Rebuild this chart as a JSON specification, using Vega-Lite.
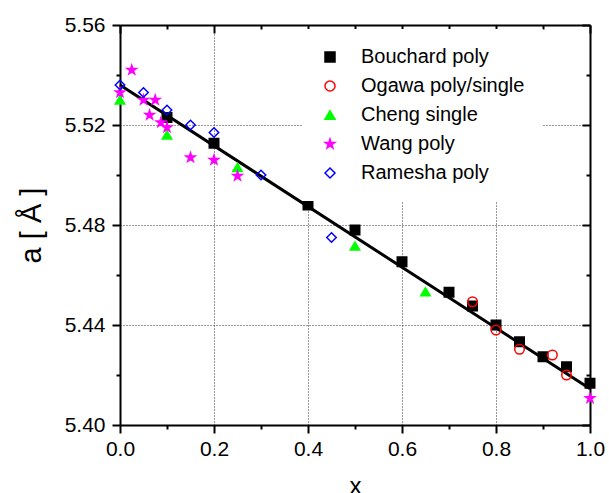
{
  "$schema": "https://vega.github.io/schema/vega-lite/v6.json",
  "width": 470,
  "height": 400,
  "autosize": {"type": "none"},
  "padding": {"left": 120, "top": 25, "right": 19, "bottom": 68},
  "background": "white",
  "config": {
    "font": "Liberation Sans",
    "view": {"stroke": null},
    "axis": {
      "domainColor": "black",
      "domainWidth": 2,
      "tickColor": "black",
      "tickWidth": 2,
      "labelColor": "black",
      "labelFontSize": 21,
      "labelFont": "Liberation Sans",
      "titleColor": "black",
      "titleFont": "Liberation Sans",
      "titleFontWeight": "normal",
      "gridColor": "#333333",
      "gridDash": [1, 2],
      "gridWidth": 1
    }
  },
  "datasets": {
    "fit": [
      {"x": 0, "a": 5.536},
      {"x": 1, "a": 5.4145}
    ],
    "pts": [
      {"series": "Bouchard poly", "x": 0.1, "a": 5.523},
      {"series": "Bouchard poly", "x": 0.2, "a": 5.5127},
      {"series": "Bouchard poly", "x": 0.4, "a": 5.488},
      {"series": "Bouchard poly", "x": 0.5, "a": 5.478},
      {"series": "Bouchard poly", "x": 0.6, "a": 5.4653},
      {"series": "Bouchard poly", "x": 0.7, "a": 5.4531},
      {"series": "Bouchard poly", "x": 0.75, "a": 5.4476},
      {"series": "Bouchard poly", "x": 0.8, "a": 5.44},
      {"series": "Bouchard poly", "x": 0.85, "a": 5.4333},
      {"series": "Bouchard poly", "x": 0.9, "a": 5.4273},
      {"series": "Bouchard poly", "x": 0.95, "a": 5.4233},
      {"series": "Bouchard poly", "x": 1.0, "a": 5.4167},
      {"series": "Ogawa poly/single", "x": 0.75, "a": 5.4493},
      {"series": "Ogawa poly/single", "x": 0.8, "a": 5.438},
      {"series": "Ogawa poly/single", "x": 0.85, "a": 5.4303},
      {"series": "Ogawa poly/single", "x": 0.92, "a": 5.428},
      {"series": "Ogawa poly/single", "x": 0.95, "a": 5.42},
      {"series": "Cheng single", "x": 0.0, "a": 5.53},
      {"series": "Cheng single", "x": 0.1, "a": 5.516},
      {"series": "Cheng single", "x": 0.25, "a": 5.503},
      {"series": "Cheng single", "x": 0.5, "a": 5.4716},
      {"series": "Cheng single", "x": 0.65, "a": 5.4533},
      {"series": "Wang poly", "x": 0.0, "a": 5.533},
      {"series": "Wang poly", "x": 0.025, "a": 5.542},
      {"series": "Wang poly", "x": 0.05, "a": 5.53},
      {"series": "Wang poly", "x": 0.063, "a": 5.524},
      {"series": "Wang poly", "x": 0.075, "a": 5.53},
      {"series": "Wang poly", "x": 0.087, "a": 5.521},
      {"series": "Wang poly", "x": 0.1, "a": 5.519},
      {"series": "Wang poly", "x": 0.15, "a": 5.507},
      {"series": "Wang poly", "x": 0.2, "a": 5.506},
      {"series": "Wang poly", "x": 0.25, "a": 5.4996},
      {"series": "Wang poly", "x": 1.0, "a": 5.4107},
      {"series": "Ramesha poly", "x": 0.0, "a": 5.536},
      {"series": "Ramesha poly", "x": 0.05, "a": 5.533},
      {"series": "Ramesha poly", "x": 0.1, "a": 5.526},
      {"series": "Ramesha poly", "x": 0.15, "a": 5.52},
      {"series": "Ramesha poly", "x": 0.2, "a": 5.517},
      {"series": "Ramesha poly", "x": 0.3, "a": 5.5},
      {"series": "Ramesha poly", "x": 0.45, "a": 5.475}
    ]
  },
  "layer": [
    {
      "data": {"name": "fit"},
      "mark": {"type": "line", "color": "black", "strokeWidth": 3},
      "encoding": {
        "x": {
          "field": "x", "type": "quantitative",
          "scale": {"domain": [0, 1], "nice": false, "zero": false},
          "axis": {
            "orient": "bottom",
            "values": [0, 0.1, 0.2, 0.3, 0.4, 0.5, 0.6, 0.7, 0.8, 0.9, 1.0],
            "labelExpr": "round(datum.value*10)%2==0 ? format(datum.value,'.1f') : ''",
            "tickSize": {"condition": {"test": "round(datum.value*10)%2==0", "value": 8}, "value": 4},
            "labelPadding": 5,
            "labelFlush": false,
            "labelOverlap": false,
            "grid": true,
            "gridOpacity": {"condition": {"test": "round(datum.value*10)%2==0 && datum.value>0.05 && datum.value<0.95", "value": 1}, "value": 0},
            "title": "x",
            "titleFontSize": 24,
            "titlePadding": 15
          }
        },
        "y": {
          "field": "a", "type": "quantitative",
          "scale": {"domain": [5.40, 5.56], "nice": false, "zero": false},
          "axis": {
            "orient": "left",
            "values": [5.40, 5.42, 5.44, 5.46, 5.48, 5.50, 5.52, 5.54, 5.56],
            "labelExpr": "round(datum.value*100)%4==0 ? format(datum.value,'.2f') : ''",
            "tickSize": {"condition": {"test": "round(datum.value*100)%4==0", "value": 8}, "value": 4},
            "labelPadding": 7,
            "labelFlush": false,
            "labelOverlap": false,
            "grid": true,
            "gridOpacity": {"condition": {"test": "round(datum.value*100)%4==0 && datum.value>5.41 && datum.value<5.55", "value": 1}, "value": 0},
            "title": "a [ Å ]",
            "titleFontSize": 29,
            "titlePadding": 18
          }
        }
      }
    },
    {
      "data": {"name": "pts"},
      "mark": {"type": "point", "size": 90, "strokeWidth": 1.5, "opacity": 1},
      "encoding": {
        "x": {
          "field": "x", "type": "quantitative",
          "scale": {"domain": [0, 1], "nice": false, "zero": false},
          "axis": {
            "orient": "top",
            "values": [0, 0.1, 0.2, 0.3, 0.4, 0.5, 0.6, 0.7, 0.8, 0.9, 1.0],
            "labels": false,
            "grid": false,
            "title": null,
            "tickSize": {"condition": {"test": "round(datum.value*10)%2==0", "value": -8}, "value": -4}
          }
        },
        "y": {
          "field": "a", "type": "quantitative",
          "scale": {"domain": [5.40, 5.56], "nice": false, "zero": false},
          "axis": {
            "orient": "right",
            "values": [5.40, 5.42, 5.44, 5.46, 5.48, 5.50, 5.52, 5.54, 5.56],
            "labels": false,
            "grid": false,
            "title": null,
            "tickSize": {"condition": {"test": "round(datum.value*100)%4==0", "value": -8}, "value": -4}
          }
        },
        "shape": {
          "field": "series", "type": "nominal",
          "scale": {
            "domain": ["Bouchard poly", "Ogawa poly/single", "Cheng single", "Wang poly", "Ramesha poly"],
            "range": ["square", "circle", "triangle-up", "M0,-1L0.224,-0.307L0.951,-0.309L0.361,0.117L0.588,0.809L0,0.38L-0.588,0.809L-0.361,0.117L-0.951,-0.309L-0.224,-0.307Z", "diamond"]
          },
          "legend": {"orient": "none", "legendX": 182, "legendY": 4, "fillColor": "white", "zindex": 5, "padding": 18, "title": null, "labelFontSize": 20, "labelFont": "Liberation Sans", "labelColor": "black", "labelLimit": 400, "symbolSize": 100, "symbolStrokeWidth": 1.5, "rowPadding": 9, "labelOffset": 21}
        },
        "fill": {
          "field": "series", "type": "nominal",
          "scale": {
            "domain": ["Bouchard poly", "Ogawa poly/single", "Cheng single", "Wang poly", "Ramesha poly"],
            "range": ["black", "transparent", "#00FF00", "#FF00FF", "transparent"]
          },
          "legend": {"orient": "none", "legendX": 182, "legendY": 4, "fillColor": "white", "zindex": 5, "padding": 18, "title": null, "labelFontSize": 20, "labelFont": "Liberation Sans", "labelColor": "black", "labelLimit": 400, "symbolSize": 100, "symbolStrokeWidth": 1.5, "rowPadding": 9, "labelOffset": 21}
        },
        "stroke": {
          "field": "series", "type": "nominal",
          "scale": {
            "domain": ["Bouchard poly", "Ogawa poly/single", "Cheng single", "Wang poly", "Ramesha poly"],
            "range": ["black", "red", "#00FF00", "#FF00FF", "blue"]
          },
          "legend": {"orient": "none", "legendX": 182, "legendY": 4, "fillColor": "white", "zindex": 5, "padding": 18, "title": null, "labelFontSize": 20, "labelFont": "Liberation Sans", "labelColor": "black", "labelLimit": 400, "symbolSize": 100, "symbolStrokeWidth": 1.5, "rowPadding": 9, "labelOffset": 21}
        }
      }
    }
  ],
  "resolve": {"axis": {"x": "independent", "y": "independent"}}
}
